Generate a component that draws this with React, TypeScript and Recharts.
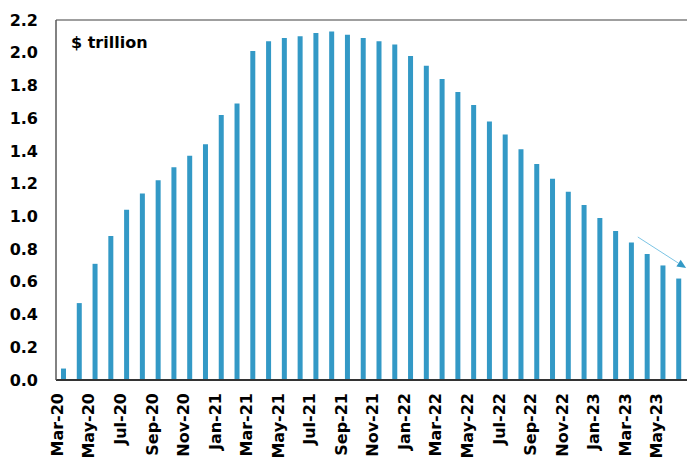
import { BarChart, Bar, XAxis, YAxis, ReferenceLine } from 'recharts'

const months = [
  'Mar-20', 'Apr-20', 'May-20', 'Jun-20', 'Jul-20', 'Aug-20', 'Sep-20', 'Oct-20', 'Nov-20', 'Dec-20',
  'Jan-21', 'Feb-21', 'Mar-21', 'Apr-21', 'May-21', 'Jun-21', 'Jul-21', 'Aug-21', 'Sep-21', 'Oct-21',
  'Nov-21', 'Dec-21', 'Jan-22', 'Feb-22', 'Mar-22', 'Apr-22', 'May-22', 'Jun-22', 'Jul-22', 'Aug-22',
  'Sep-22', 'Oct-22', 'Nov-22', 'Dec-22', 'Jan-23', 'Feb-23', 'Mar-23', 'Apr-23', 'May-23', 'Jun-23',
]

// $ trillion
const values = [
  0.07, 0.47, 0.71, 0.88, 1.04, 1.14, 1.22, 1.3, 1.37, 1.44,
  1.62, 1.69, 2.01, 2.07, 2.09, 2.1, 2.12, 2.13, 2.11, 2.09,
  2.07, 2.05, 1.98, 1.92, 1.84, 1.76, 1.68, 1.58, 1.5, 1.41,
  1.32, 1.23, 1.15, 1.07, 0.99, 0.91, 0.84, 0.77, 0.7, 0.62,
]

const yTicks = [0, 0.2, 0.4, 0.6, 0.8, 1.0, 1.2, 1.4, 1.6, 1.8, 2.0, 2.2]

// trend arrow drawn over the last bars
const arrowFrom = { month: 'Mar-23', value: 0.874 }
const arrowTo = { month: 'Jun-23', value: 0.684 }

const data = months.map((month, i) => ({ month, value: values[i] }))

const font = '"DejaVu Sans", sans-serif'
const barColor = '#3399c6'

const MonthTick = (props: any) => {
  const { x, y, payload } = props
  return (
    <g transform={`translate(${x},${y})`}>
      <text
        transform="rotate(-90)"
        x={0}
        y={0}
        dy={-1}
        textAnchor="end"
        fill="#000"
        fontFamily={font}
        fontWeight="bold"
        fontSize={16}
      >
        {payload.value}
      </text>
    </g>
  )
}

const Arrow = (props: any) => {
  const { x1, y1, x2, y2 } = props
  if ([x1, y1, x2, y2].some((v) => typeof v !== 'number')) return <g />
  const sx = x1 + 6
  const ex = x2 + 7
  const angle = Math.atan2(y2 - y1, ex - sx)
  const len = 9
  const half = 4
  const bx = ex - len * Math.cos(angle)
  const by = y2 - len * Math.sin(angle)
  const p1 = `${bx + half * Math.sin(angle)},${by - half * Math.cos(angle)}`
  const p2 = `${bx - half * Math.sin(angle)},${by + half * Math.cos(angle)}`
  return (
    <g>
      <line x1={sx} y1={y1} x2={bx} y2={by} stroke="#7cc4e4" strokeWidth={1} />
      <polygon points={`${ex},${y2} ${p1} ${p2}`} fill={barColor} />
    </g>
  )
}

export default function App() {
  return (
    <div style={{ position: 'relative', width: 687, height: 461 }}>
      <style>{'body { margin: 0; }'}</style>
      <BarChart
        width={687}
        height={461}
        data={data}
        margin={{ top: 20, right: 0, left: 0, bottom: 0 }}
        barCategoryGap={0}
      >
        <XAxis
          dataKey="month"
          interval={1}
          height={81}
          tickLine={false}
          tickMargin={7}
          axisLine={{ stroke: '#333', strokeWidth: 2 }}
          tick={<MonthTick />}
        />
        <YAxis
          width={56}
          domain={[0, 2.2]}
          ticks={yTicks}
          tickFormatter={(v: number) => v.toFixed(1)}
          tickLine={false}
          tickMargin={12}
          axisLine={{ stroke: '#595959', strokeWidth: 1.5 }}
          tick={{ fill: '#000', fontFamily: font, fontWeight: 'bold', fontSize: 16 }}
        />
        <ReferenceLine y={2.2} stroke="#7f7f7f" strokeWidth={1.5} />
        <Bar dataKey="value" fill={barColor} barSize={5} isAnimationActive={false} />
        <ReferenceLine
          segment={[
            { x: arrowFrom.month, y: arrowFrom.value },
            { x: arrowTo.month, y: arrowTo.value },
          ]}
          shape={<Arrow />}
        />
      </BarChart>
      <div
        style={{
          position: 'absolute',
          left: 71,
          top: 33,
          fontFamily: font,
          fontWeight: 'bold',
          fontSize: 16,
          color: '#000',
        }}
      >
        $ trillion
      </div>
    </div>
  )
}
